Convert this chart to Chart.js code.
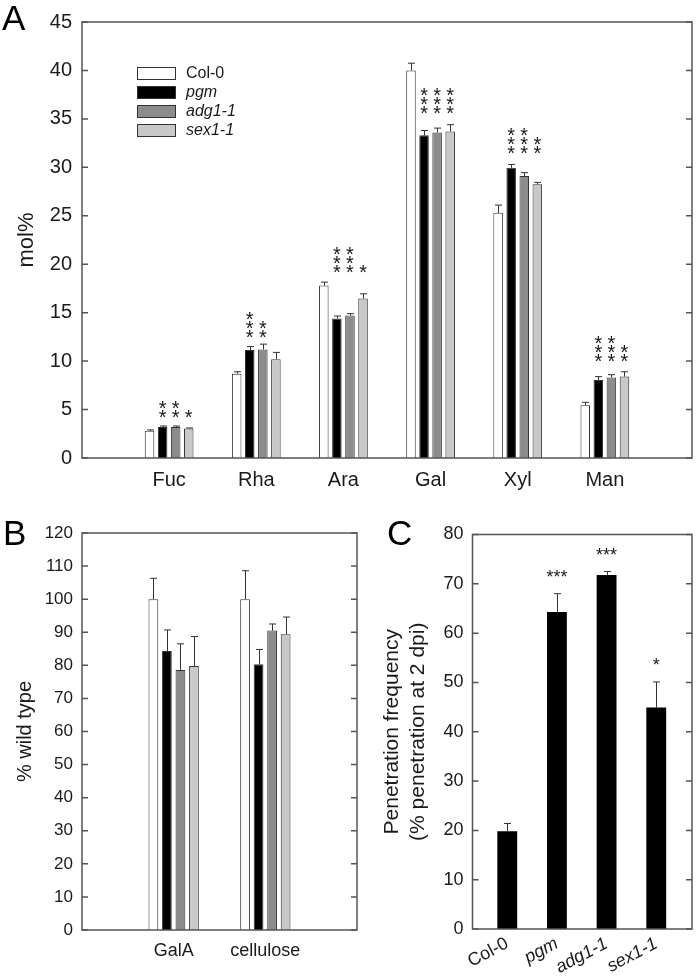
<!DOCTYPE html>
<html>
<head>
<meta charset="utf-8">
<script src="https://cdn.jsdelivr.net/npm/chart.js@4.4.1/dist/chart.umd.min.js"></script>
<style>
  body { margin: 0; background: #fff; width: 700px; height: 977px; position: relative; overflow: hidden; }
  canvas { position: absolute; }
</style>
</head>
<body>
<canvas id="chartA" width="700" height="490" style="left:0px;top:0px"></canvas>
<canvas id="chartB" width="360" height="487" style="left:0px;top:490px"></canvas>
<canvas id="chartC" width="340" height="487" style="left:360px;top:490px"></canvas>
<script>
const FONT = '"Liberation Sans", Arial, Helvetica, sans-serif';
const INK = '#1a1a1a';
const AXIS = '#555555';

// genotypes (legend + bar fills)
const lines = ['Col-0', 'pgm', 'adg1-1', 'sex1-1'];
const fills = ['#ffffff', '#000000', '#8c8c8c', '#c8c8c8'];

// A: neutral sugars, mol%
const sugars = ['Fuc', 'Rha', 'Ara', 'Gal', 'Xyl', 'Man'];
const colA = [2.8, 8.7, 17.8, 40.0, 25.3, 5.45];
const pgmA = [3.2, 11.15, 14.4, 33.3, 29.95, 8.05];
const adgA = [3.2, 11.2, 14.7, 33.6, 29.1, 8.3];
const sexA = [3.05, 10.2, 16.45, 33.7, 28.25, 8.4];
const colASe = [0.1, 0.2, 0.35, 0.75, 0.8, 0.3];
const pgmASe = [0.1, 0.35, 0.25, 0.5, 0.35, 0.35];
const adgASe = [0.1, 0.55, 0.2, 0.45, 0.35, 0.3];
const sexASe = [0.05, 0.7, 0.5, 0.7, 0.2, 0.5];
const pgmStarsA = ['**', '***', '***', '***', '***', '***'];
const adgStarsA = ['**', '**', '***', '***', '***', '***'];
const sexStarsA = ['*', '', '*', '***', '**', '**'];
const starBaseA = [4.5, 12.8, 19.5, 35.95, 31.8, 10.28]; // lowest star, mol%

// B: % wild type
const polymers = ['GalA', 'cellulose'];
const colB = [100, 100];
const pgmB = [84.3, 80.3];
const adgB = [78.6, 90.5];
const sexB = [79.8, 89.4];
const colBSe = [6.3, 8.6];
const pgmBSe = [6.4, 4.5];
const adgBSe = [7.9, 2.0];
const sexBSe = [8.9, 5.2];

// C: penetration frequency
const penLines = ['Col-0', 'pgm', 'adg1-1', 'sex1-1'];
const penC = [19.8, 64.3, 71.8, 44.9];
const penCSe = [1.6, 3.7, 0.7, 5.2];
const penStars = ['', '***', '***', '*'];

function xAxis(cats, first, min, max, size, height, pad, rot) {
  return {
    type: 'linear', min: min, max: max, offset: false,
    afterBuildTicks: s => { s.ticks = cats.map((c, i) => ({ value: i + first })); },
    afterFit: s => { s.height = height; },
    grid: { display: false, drawTicks: false, offset: false },
    border: { display: false },
    ticks: {
      autoSkip: false, maxRotation: rot, minRotation: rot, padding: pad, color: INK,
      callback: (v, i) => cats[i],
      font: c => ({ family: FONT, size: size, style: (rot && c.index > 0) ? 'italic' : 'normal' })
    }
  };
}

function yAxis(max, step, size, width, pad, title, tsize, tpad) {
  return {
    min: 0, max: max,
    afterFit: s => { s.width = width; },
    grid: { display: false, drawTicks: false },
    border: { display: false },
    ticks: { stepSize: step, padding: pad, color: INK, font: { family: FONT, size: size } },
    title: { display: true, text: title, color: INK, font: { family: FONT, size: tsize },
             padding: { top: tpad, bottom: 0 } }
  };
}

const frame = {
  id: 'frame',
  afterDraw(chart) {
    const { ctx, chartArea: a } = chart;
    const y = chart.scales.y;
    ctx.save();
    ctx.strokeStyle = AXIS;
    ctx.lineWidth = 1.5;
    ctx.strokeRect(a.left, a.top, a.right - a.left, a.bottom - a.top);
    ctx.beginPath();
    y.ticks.forEach(t => {
      const py = y.getPixelForValue(t.value);
      ctx.moveTo(a.left, py); ctx.lineTo(a.left + 6, py);
      ctx.moveTo(a.right, py); ctx.lineTo(a.right - 6, py);
    });
    ctx.stroke();
    ctx.restore();
  }
};

const errorBars = {
  id: 'errorBars',
  afterDatasetsDraw(chart) {
    const { ctx } = chart;
    const y = chart.scales.y;
    ctx.save();
    ctx.strokeStyle = '#333';
    ctx.lineWidth = 1;
    chart.data.datasets.forEach((ds, di) => {
      chart.getDatasetMeta(di).data.forEach((bar, i) => {
        const top = y.getPixelForValue(ds.data[i].y + ds.errors[i]);
        const x = Math.round(bar.x) + 0.5;
        ctx.beginPath();
        ctx.moveTo(x, bar.y); ctx.lineTo(x, top);
        ctx.moveTo(x - 3.5, top); ctx.lineTo(x + 3.5, top);
        ctx.stroke();
      });
    });
    ctx.restore();
  }
};

function panelLetter(txt, x, y) {
  return {
    id: 'letter',
    afterDraw(chart) {
      const ctx = chart.ctx;
      ctx.save();
      ctx.font = '35px ' + FONT;
      ctx.fillStyle = '#000';
      ctx.textBaseline = 'alphabetic';
      ctx.fillText(txt, x, y);
      ctx.restore();
    }
  };
}

// vertical stacks of asterisks (panel A)
const starStacks = {
  id: 'starStacks',
  afterDatasetsDraw(chart) {
    const { ctx } = chart;
    const y = chart.scales.y;
    ctx.save();
    ctx.font = '20px ' + FONT;
    ctx.fillStyle = INK;
    ctx.textAlign = 'center';
    const m = ctx.measureText('*');
    const shift = (m.actualBoundingBoxAscent - m.actualBoundingBoxDescent) / 2;
    chart.data.datasets.forEach((ds, di) => {
      if (!ds.stars) return;
      chart.getDatasetMeta(di).data.forEach((bar, i) => {
        const base = y.getPixelForValue(starBaseA[i]);
        for (let k = 0; k < ds.stars[i].length; k++) {
          ctx.fillText('*', bar.x, base - k * 9 + shift);
        }
      });
    });
    ctx.restore();
  }
};

// legend of panel A, mutants in italics
const legendA = {
  id: 'legendA',
  afterDraw(chart) {
    const { ctx } = chart;
    ctx.save();
    lines.forEach((name, i) => {
      const top = 67 + i * 19;
      ctx.fillStyle = fills[i];
      ctx.fillRect(137, top, 39, 12.5);
      ctx.strokeStyle = '#333';
      ctx.lineWidth = 1;
      ctx.strokeRect(137.5, top + 0.5, 38, 12);
      ctx.font = (i ? 'italic ' : '') + '16px ' + FONT;
      ctx.fillStyle = INK;
      ctx.textBaseline = 'middle';
      ctx.fillText(name, 186, top + 6.5);
    });
    ctx.restore();
  }
};

// horizontal asterisks over error bars (panel C)
const starsAbove = {
  id: 'starsAbove',
  afterDatasetsDraw(chart) {
    const { ctx } = chart;
    const y = chart.scales.y;
    const ds = chart.data.datasets[0];
    ctx.save();
    ctx.font = '18px ' + FONT;
    ctx.fillStyle = INK;
    ctx.textAlign = 'center';
    const m = ctx.measureText('*');
    const shift = (m.actualBoundingBoxAscent - m.actualBoundingBoxDescent) / 2;
    chart.getDatasetMeta(0).data.forEach((bar, i) => {
      if (!penStars[i]) return;
      const top = y.getPixelForValue(ds.data[i].y + ds.errors[i]);
      ctx.fillText(penStars[i], bar.x, top - 20 + shift);
    });
    ctx.restore();
  }
};

const base = {
  responsive: false,
  animation: false,
  events: [],
  plugins: { legend: { display: false }, tooltip: { enabled: false } }
};

// Panel A
const seriesA = [colA, pgmA, adgA, sexA];
const errA = [colASe, pgmASe, adgASe, sexASe];
const starsA = [null, pgmStarsA, adgStarsA, sexStarsA];
new Chart(document.getElementById('chartA'), {
  type: 'bar',
  data: {
    datasets: lines.map((name, k) => ({
      label: name,
      data: sugars.map((c, i) => ({ x: i + 1, y: seriesA[k][i] })),
      errors: errA[k],
      stars: starsA[k],
      backgroundColor: fills[k],
      borderColor: '#333',
      borderWidth: 1,
      categoryPercentage: 0.6,
      barPercentage: 0.73
    }))
  },
  options: Object.assign({}, base, {
    layout: { padding: { top: 19, right: 8, left: 0, bottom: 0 } },
    scales: {
      x: xAxis(sugars, 1, 0, 7, 20, 32, 10, 0),
      y: yAxis(45, 5, 20, 82, 10, 'mol%', 22, 14)
    }
  }),
  plugins: [frame, errorBars, starStacks, legendA, panelLetter('A', 2, 30)]
});

// Panel B
const seriesB = [colB, pgmB, adgB, sexB];
const errB = [colBSe, pgmBSe, adgBSe, sexBSe];
new Chart(document.getElementById('chartB'), {
  type: 'bar',
  data: {
    datasets: lines.map((name, k) => ({
      label: name,
      data: polymers.map((c, i) => ({ x: i + 1, y: seriesB[k][i] })),
      errors: errB[k],
      backgroundColor: fills[k],
      borderColor: '#333',
      borderWidth: 1,
      categoryPercentage: 0.59,
      barPercentage: 0.72
    }))
  },
  options: Object.assign({}, base, {
    layout: { padding: { top: 43, right: 3, left: 0, bottom: 0 } },
    scales: {
      x: xAxis(polymers, 1, 0, 3, 18, 47, 10, 0),
      y: yAxis(120, 10, 17, 82, 9, '% wild type', 20, 13)
    }
  }),
  plugins: [frame, errorBars, panelLetter('B', 3, 55)]
});

// Panel C
new Chart(document.getElementById('chartC'), {
  type: 'bar',
  data: {
    datasets: [{
      label: 'penetration',
      data: penLines.map((c, i) => ({ x: i, y: penC[i] })),
      errors: penCSe,
      backgroundColor: '#000000',
      borderWidth: 0,
      categoryPercentage: 1,
      barPercentage: 0.4
    }]
  },
  options: Object.assign({}, base, {
    layout: { padding: { top: 44.5, right: 8, left: 0, bottom: 0 } },
    scales: {
      x: xAxis(penLines, 0, -0.7, 3.72, 18, 48, 4, 28),
      y: yAxis(80, 10, 18, 112.5, 9, ['Penetration frequency', '(% penetration at 2 dpi)'], 21, 20)
    }
  }),
  plugins: [frame, errorBars, starsAbove, panelLetter('C', 27, 55)]
});
</script>
</body>
</html>
